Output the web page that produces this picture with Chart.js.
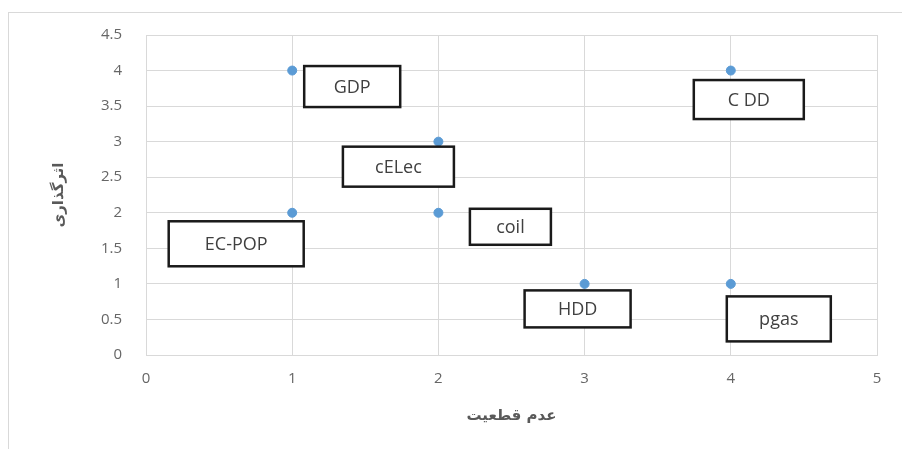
<!DOCTYPE html>
<html>
<head>
<meta charset="utf-8">
<script src="https://cdn.jsdelivr.net/npm/chart.js@4/dist/chart.umd.min.js"></script>
<style>
  html, body { margin: 0; padding: 0; background: #fff; }
  #wrap { width: 902px; height: 449px; position: relative; }
</style>
</head>
<body>
<div id="wrap"><canvas id="myChart" width="902" height="449"></canvas></div>
<script>
// values
const names = ['GDP', 'C DD', 'cELec', 'EC-POP', 'coil', 'HDD', 'pgas'];
const uncertainty = [1, 4, 2, 1, 2, 3, 4];   // x: عدم قطعیت
const impact = [4, 4, 3, 2, 2, 1, 1];        // y: اثرگذاری
const xTicks = [0, 1, 2, 3, 4, 5];
const yTicks = [0, 0.5, 1, 1.5, 2, 2.5, 3, 3.5, 4, 4.5];

// label boxes: offset of centre from the point (px) and box size
const boxes = [
    { dx: 60, dy: 16, w: 96, h: 41 },
    { dx: 18, dy: 29, w: 110, h: 39 },
    { dx: -40, dy: 25, w: 111, h: 40 },
    { dx: -56, dy: 31, w: 135, h: 45 },
    { dx: 72, dy: 14, w: 81, h: 36 },
    { dx: -7, dy: 25, w: 106, h: 37 },
    { dx: 48, dy: 35, w: 104, h: 45 }
];

const framePlugin = {
    id: 'frame',
    beforeDraw(chart) {
        const c = chart.ctx;
        c.save();
        c.strokeStyle = '#d9d9d9';
        c.lineWidth = 1;
        c.strokeRect(8.5, 12.5, 920, 460);
        c.restore();
    }
};

const labelPlugin = {
    id: 'labelBoxes',
    afterDatasetsDraw(chart) {
        const c = chart.ctx;
        const meta = chart.getDatasetMeta(0);
        c.save();
        meta.data.forEach((pt, i) => {
            const b = boxes[i];
            const cx = pt.x + b.dx, cy = pt.y + b.dy;
            c.fillStyle = '#fff';
            c.fillRect(cx - b.w / 2, cy - b.h / 2, b.w, b.h);
            c.strokeStyle = '#1a1a1a';
            c.lineWidth = 2.5;
            c.strokeRect(cx - b.w / 2, cy - b.h / 2, b.w, b.h);
            c.fillStyle = '#404040';
            c.font = '18px "Open Sans", sans-serif';
            c.textAlign = 'center';
            c.textBaseline = 'middle';
            c.fillText(names[i], cx, cy + 1);
        });
        c.restore();
    }
};

const ctx = document.getElementById('myChart').getContext('2d');
new Chart(ctx, {
    type: 'scatter',
    data: {
        datasets: [{
            data: uncertainty.map((x, i) => ({ x: x, y: impact[i] })),
            backgroundColor: '#5b9bd5',
            borderColor: '#5b9bd5',
            pointRadius: 4.5
        }]
    },
    options: {
        responsive: false,
        animation: false,
        layout: { padding: { top: 35, right: 25, left: 0, bottom: 0 } },
        plugins: { legend: { display: false }, tooltip: { enabled: false } },
        scales: {
            x: {
                type: 'linear',
                min: 0, max: 5,
                afterBuildTicks: s => { s.ticks = xTicks.map(v => ({ value: v })); },
                afterFit: s => { s.height = 94; },
                grid: { color: '#d9d9d9', drawTicks: false },
                border: { color: '#d9d9d9' },
                ticks: { color: '#666', font: { size: 15, family: '"Open Sans", sans-serif' }, padding: 15, callback: v => String(v) },
                title: {
                    display: true, text: 'عدم قطعیت', color: '#595959',
                    font: { size: 15, family: '"DejaVu Sans", sans-serif', weight: 'bold' },
                    padding: { bottom: 24 }
                }
            },
            y: {
                min: 0, max: 4.5,
                afterBuildTicks: s => { s.ticks = yTicks.map(v => ({ value: v })); },
                afterFit: s => { s.width = 146; },
                grid: { color: '#d9d9d9', drawTicks: false },
                border: { color: '#d9d9d9' },
                ticks: { color: '#666', font: { size: 15, family: '"Open Sans", sans-serif' }, padding: 24, callback: v => String(v) },
                title: {
                    display: true, text: 'اثرگذاری', color: '#595959',
                    font: { size: 15, family: '"DejaVu Sans", sans-serif', weight: 'bold' },
                    padding: { top: 50 }
                }
            }
        }
    },
    plugins: [framePlugin, labelPlugin]
});
</script>
</body>
</html>
